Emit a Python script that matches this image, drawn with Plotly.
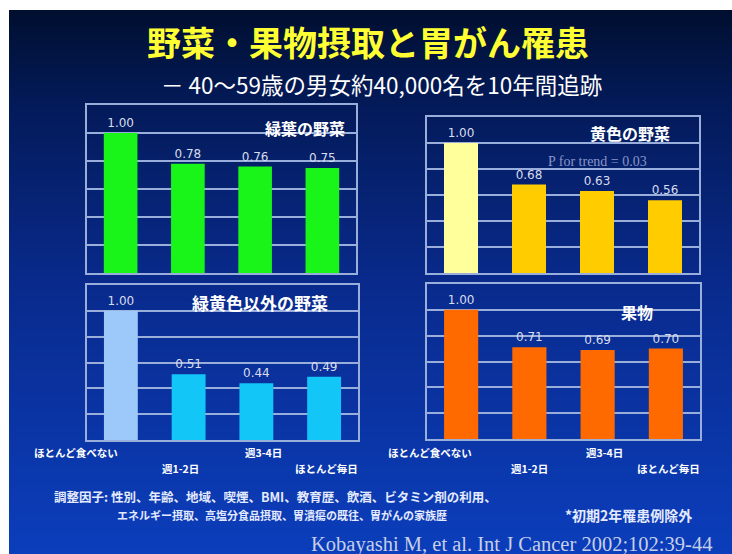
import plotly.graph_objects as go

W, H = 732, 554

# ---- data -------------------------------------------------------------
categories = ["ほとんど食べない", "週1-2日", "週3-4日", "ほとんど毎日"]
green_leafy = [1.00, 0.78, 0.76, 0.75]
yellow_veg = [1.00, 0.68, 0.63, 0.56]
other_veg = [1.00, 0.51, 0.44, 0.49]
fruit = [1.00, 0.71, 0.69, 0.70]
panel_titles = ["緑葉の野菜", "黄色の野菜", "緑黄色以外の野菜", "果物"]

title_text = "野菜・果物摂取と胃がん罹患"
subtitle_text = "－ 40～59歳の男女約40,000名を10年間追跡"
trend_text = "P for trend = 0.03"
note_line1 = "調整因子: 性別、年齢、地域、喫煙、BMI、教育歴、飲酒、ビタミン剤の利用、"
note_line2 = "エネルギー摂取、高塩分食品摂取、胃潰瘍の既往、胃がんの家族歴"
note_excl = "*初期2年罹患例除外"
citation = "Kobayashi M, et al. Int J Cancer 2002;102:39-44"


def px(x):
    return x / W


def py(y):
    return 1 - y / H


JP = "Noto Sans CJK JP"
GRID = "#9aaedc"
LABEL = "#d8dcec"

# panel boxes in pixels: left, right, top, bottom
panels = [
    (87, 356, 105, 273),
    (427, 699, 117, 273),
    (87, 358, 285, 440),
    (427, 700, 284, 439),
]
series = [green_leafy, yellow_veg, other_veg, fruit]
colors = [
    ["#19f519", "#19f519", "#19f519", "#19f519"],
    ["#ffff9c", "#ffcc00", "#ffcc00", "#ffcc00"],
    ["#9cc8fa", "#12c6f7", "#12c6f7", "#12c6f7"],
    ["#ff6a00", "#ff6a00", "#ff6a00", "#ff6a00"],
]

fig = go.Figure()
layout_axes = {}
for i, ((l, r, t, b), vals, cols) in enumerate(zip(panels, series, colors)):
    n = "" if i == 0 else str(i + 1)
    fig.add_trace(go.Bar(
        x=list(range(len(categories))), y=vals,
        marker=dict(color=cols, line=dict(width=0)),
        text=[f"{v:.2f}" for v in vals], textposition="outside",
        textfont=dict(family="DejaVu Sans", size=12, color=LABEL),
        cliponaxis=False, xaxis="x" + n, yaxis="y" + n,
        hoverinfo="skip", showlegend=False,
    ))
    layout_axes["xaxis" + n] = dict(
        domain=[px(l), px(r)], anchor="y" + n, range=[-0.5, 3.5],
        showticklabels=False, ticks="", showgrid=False, zeroline=False,
        showline=True, mirror=True, linecolor=GRID, linewidth=2,
    )
    layout_axes["yaxis" + n] = dict(
        domain=[py(b), py(t)], anchor="x" + n, range=[0, 1.2], dtick=0.2,
        showticklabels=False, ticks="", showgrid=True, gridcolor=GRID,
        gridwidth=2, zeroline=False,
        showline=True, mirror=True, linecolor=GRID, linewidth=2,
    )

# background gradient (dark navy at top to bright blue at the bottom)
stops = [(10, (0, 15, 48)), (100, (3, 26, 88)), (280, (9, 42, 140)),
         (554, (11, 62, 188))]
shapes = []
y = 10
step = 4
while y < H:
    for (y0, c0), (y1, c1) in zip(stops[:-1], stops[1:]):
        if y0 <= y <= y1:
            f = (y - y0) / (y1 - y0)
            c = tuple(int(round(a + (bb - a) * f)) for a, bb in zip(c0, c1))
            break
    shapes.append(dict(type="rect", xref="paper", yref="paper", layer="below",
                       x0=px(9), x1=1, y0=py(min(y + step + 1, H)), y1=py(y),
                       fillcolor="rgb(%d,%d,%d)" % c, line=dict(width=0)))
    y += step

ann = []
# headline
ann.append(dict(text="<b>" + title_text + "</b>", x=px(368), y=py(42),
                font=dict(family=JP, size=34, color="#ffff33")))
ann.append(dict(text=subtitle_text, x=px(381), y=py(84),
                font=dict(family=JP, size=22.5, color="#ffffff")))

# panel titles
ann.append(dict(text="<b>" + panel_titles[0] + "</b>", x=px(347), y=py(128),
                xanchor="right", font=dict(family=JP, size=16, color="white")))
ann.append(dict(text="<b>" + panel_titles[1] + "</b>", x=px(672), y=py(133),
                xanchor="right", font=dict(family=JP, size=16, color="white")))
ann.append(dict(text="<b>" + panel_titles[2] + "</b>", x=px(260), y=py(302),
                font=dict(family=JP, size=17, color="white")))
ann.append(dict(text="<b>" + panel_titles[3] + "</b>", x=px(637), y=py(312),
                font=dict(family=JP, size=16, color="white")))

ann.append(dict(text=trend_text, x=px(597), y=py(162),
                font=dict(family="Liberation Serif", size=14, color="#8796c8")))

# staggered category labels under the lower panels
label_rows = [452, 468, 452, 468]
shifts = {"x3": [-45, -8, 7, 2], "x4": [-31, 0, 7, 3]}
for xa, sh in shifts.items():
    for k, cat in enumerate(categories):
        ann.append(dict(text="<b>" + cat + "</b>", xref=xa, x=k, yref="paper",
                        y=py(label_rows[k]), xshift=sh[k],
                        font=dict(family=JP, size=10.5, color="white")))

# footnotes
ann.append(dict(text="<b>" + note_line1 + "</b>", x=px(52), y=py(496),
                xanchor="left", font=dict(family=JP, size=12.5, color="#e4eaff")))
ann.append(dict(text="<b>" + note_line2 + "</b>", x=px(115), y=py(515),
                xanchor="left", font=dict(family=JP, size=11, color="#e4eaff")))
ann.append(dict(text="<b>" + note_excl + "</b>", x=px(694), y=py(515),
                xanchor="right", font=dict(family=JP, size=14, color="#e4eaff")))
ann.append(dict(text=citation, x=px(714), y=py(544), xanchor="right",
                font=dict(family="Liberation Serif", size=20.5, color="#c6cfe8")))

for a in ann:
    a.setdefault("xref", "paper")
    a.setdefault("yref", "paper")
    a.setdefault("xanchor", "center")
    a["yanchor"] = "middle"
    a["showarrow"] = False

fig.update_layout(
    width=W, height=H, margin=dict(l=0, r=0, t=0, b=0),
    paper_bgcolor="white", plot_bgcolor="rgba(0,0,0,0)",
    bargap=0.5, shapes=shapes, annotations=ann, showlegend=False,
    **layout_axes,
)

fig.write_html("out.html")
